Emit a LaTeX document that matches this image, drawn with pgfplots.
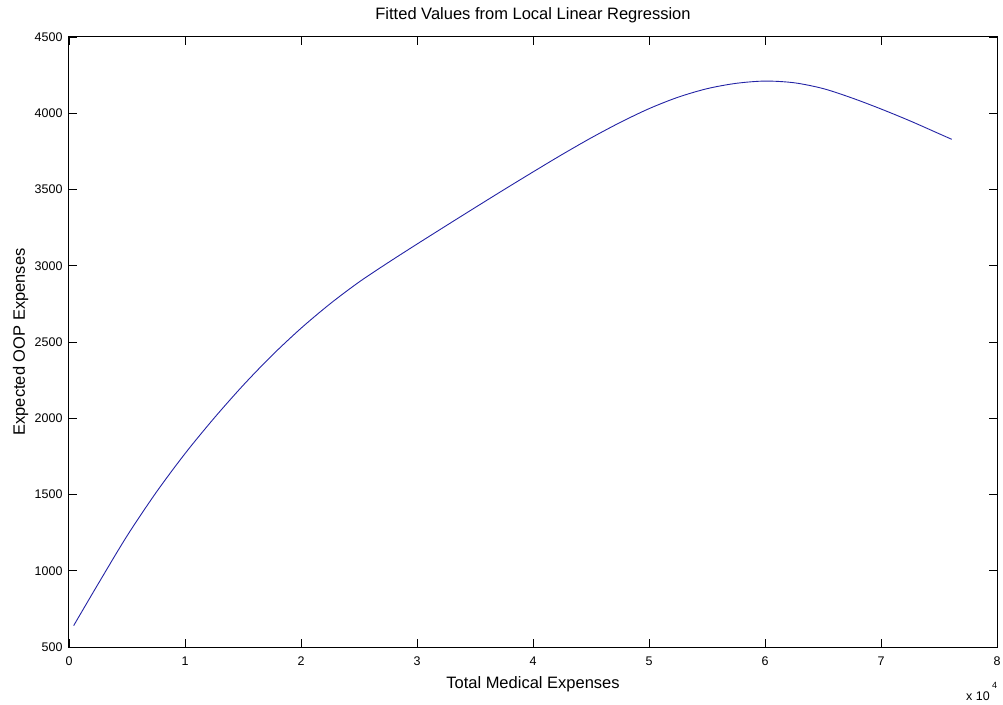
\documentclass[border=0pt]{standalone}
\usepackage{fontspec}
\setmainfont{Liberation Sans}
\usepackage{pgfplots}
\pgfplotsset{compat=1.18}
\usetikzlibrary{calc}

\definecolor{fitline}{RGB}{35,35,165}
\newcommand\tickfont{\fontsize{12.5bp}{15bp}\selectfont}
\newcommand\labelfont{\fontsize{16.5bp}{20bp}\selectfont}

\begin{document}
\begin{tikzpicture}
\begin{axis}[
  name=ax,
  at={(0,0)}, anchor=south west,
  width=928bp, height=610bp, scale only axis,
  xmin=0, xmax=80000, ymin=500, ymax=4500,
  xtick={0,10000,20000,30000,40000,50000,60000,70000,80000},
  xticklabels={0,1,2,3,4,5,6,7,8},
  ytick={500,1000,1500,2000,2500,3000,3500,4000,4500},
  scaled x ticks=false, scaled y ticks=false,
  /pgf/number format/1000 sep={},
  /pgf/number format/assume math mode=true,
  ticklabel style={font=\tickfont},
  yticklabel style={xshift=-3bp},
  xticklabel style={yshift=-6bp},
  tick align=inside,
  major tick length=8bp,
  tick style={black, line width=0.9bp},
  axis line style={black, line width=1bp},
  title={Fitted Values from Local Linear Regression},
  title style={at={(rel axis cs:0.5,1)}, anchor=base, yshift=12bp, font=\labelfont, inner sep=0pt},
  xlabel={Total Medical Expenses},
  xlabel style={at={(rel axis cs:0.5,0)}, anchor=base, yshift=-41bp, font=\labelfont, inner sep=0pt},
  ylabel={Expected OOP Expenses},
  ylabel style={at={(rel axis cs:0,0.5)}, anchor=base, yshift=44bp, font=\labelfont, inner sep=0pt},
  clip=false,
]
% fitted curve: expected out-of-pocket vs. total medical expenses
\addplot[fitline, line width=0.9bp, smooth] coordinates {
  (400,640) (2500,912) (5000,1228) (7500,1512) (10000,1768)
  (12500,2000) (15000,2215) (17500,2412) (20000,2590) (22500,2750)
  (25000,2893) (27500,3020) (30000,3142) (32500,3262) (35000,3381)
  (37500,3499) (40000,3615) (42500,3729) (45000,3838) (47500,3939)
  (50000,4030) (52500,4105) (55000,4161) (57500,4196) (60000,4211)
  (62500,4200) (65000,4162) (67500,4100) (70000,4028) (72500,3950)
  (75000,3866) (76100,3829)
};
% common scale factor of the x tick labels
\node[anchor=base east, font=\tickfont, inner sep=0pt]
  at ($(rel axis cs:1,0)+(-7bp,-53bp)$) {x 10};
\node[anchor=base west, font=\fontsize{9bp}{10bp}\selectfont, inner sep=0pt]
  at ($(rel axis cs:1,0)+(-5bp,-41bp)$) {4};
\end{axis}
\pgfresetboundingbox
\path ($(ax.south west)+(-69bp,-57bp)$) rectangle ($(ax.north east)+(6bp,37bp)$);
\end{tikzpicture}
\end{document}
